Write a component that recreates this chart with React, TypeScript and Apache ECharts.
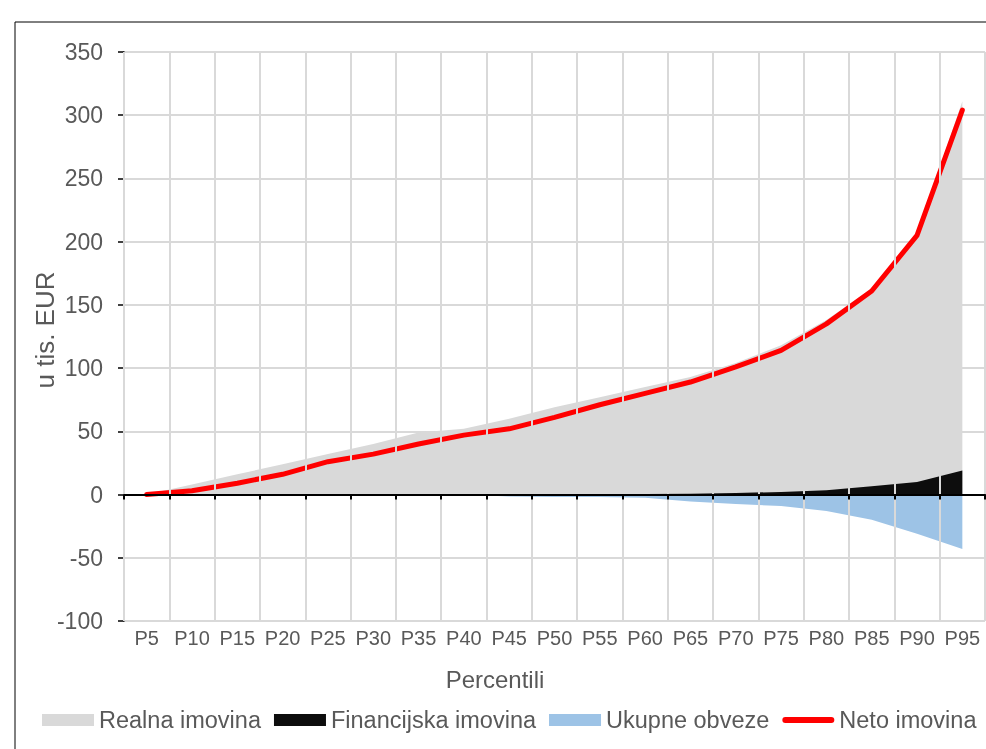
import React, { useEffect, useRef } from "react";
import * as echarts from "echarts";

const categories = ["P5", "P10", "P15", "P20", "P25", "P30", "P35", "P40", "P45", "P50", "P55", "P60", "P65", "P70", "P75", "P80", "P85", "P90", "P95"];
const realnaImovina = [0, 8, 16, 24, 32, 40, 49, 52, 60, 69, 77, 85, 93, 104, 118, 138, 163, 206, 311];
const financijskaImovina = [0, 0, 0, 0, 0, 0, 0, 0, 0, 0.3, 0.3, 0.4, 0.6, 1.3, 2, 3.5, 6.5, 10, 19];
const ukupneObveze = [0, 0, 0, 0, 0, 0, 0, 0, -1.5, -2, -2, -2.5, -5.5, -7.5, -9, -13, -20, -31, -43];
const netoImovina = [0, 3, 9, 16, 26, 32, 40, 47, 52, 61, 71, 80, 89, 101, 114, 135, 161, 205, 304];
const yTicks = { min: -100, max: 350, interval: 50 };

const FONT = "'Liberation Sans', Arial, sans-serif";
const TXT = "#595959";

export default function App() {
  const ref = useRef<HTMLDivElement>(null);
  useEffect(() => {
    if (!ref.current) return;
    const chart = echarts.init(ref.current, null, { renderer: "svg" });
    const areaSeries = (name: string, data: number[], color: string) => ({
      name,
      type: "line",
      data,
      xAxisIndex: 0,
      symbol: "none",
      lineStyle: { width: 0, color },
      itemStyle: { color },
      areaStyle: { color, opacity: 1 },
    });
    chart.setOption({
      animation: false,
      textStyle: { fontFamily: FONT },
      grid: { left: 124, top: 52, right: 1, bottom: 128, containLabel: false },
      xAxis: [
        {
          type: "category",
          data: categories,
          boundaryGap: true,
          position: "bottom",
          axisLine: { show: true, onZero: true, lineStyle: { color: "#000", width: 2 } },
          axisTick: { show: true, length: 5, lineStyle: { color: "#000", width: 2 } },
          axisLabel: { show: false },
          splitLine: { show: true, lineStyle: { color: "#d9d9d9", width: 2 } },
          z: 5,
        },
        {
          type: "category",
          data: categories,
          boundaryGap: true,
          position: "bottom",
          axisLine: { show: false, onZero: false },
          axisTick: { show: false },
          axisLabel: { show: true, color: TXT, fontSize: 20, margin: 7, fontFamily: FONT, interval: 0 },
          splitLine: { show: false },
        },
      ],
      yAxis: {
        type: "value",
        min: yTicks.min,
        max: yTicks.max,
        interval: yTicks.interval,
        axisLine: { show: true, lineStyle: { color: "#000", width: 1.5 } },
        axisTick: { show: true, length: 6, lineStyle: { color: "#000", width: 1.5 } },
        axisLabel: { color: TXT, fontSize: 23, margin: 21, fontFamily: FONT },
        splitLine: { show: true, lineStyle: { color: "#d9d9d9", width: 2 } },
      },
      legend: {
        left: 42,
        top: 708,
        width: 1000,
        padding: 0,
        itemWidth: 52,
        itemHeight: 12,
        itemGap: 13,
        textStyle: { color: TXT, fontSize: 23.5, fontFamily: FONT },
        data: [
          { name: "Realna imovina", icon: "rect" },
          { name: "Financijska imovina", icon: "rect" },
          { name: "Ukupne obveze", icon: "rect" },
          { name: "Neto imovina", icon: "path://M3,0 L49,0 A3,3 0 0 1 49,6 L3,6 A3,3 0 0 1 3,0 Z" },
        ],
      },
      graphic: [
        { type: "line", shape: { x1: 15, y1: 22, x2: 986, y2: 22 }, style: { stroke: "#000", lineWidth: 1 } },
        { type: "line", shape: { x1: 15, y1: 22, x2: 15, y2: 749 }, style: { stroke: "#000", lineWidth: 1 } },
        {
          type: "text",
          x: 495,
          y: 679,
          style: { text: "Percentili", fill: TXT, fontSize: 24, fontFamily: FONT, align: "center", verticalAlign: "middle" },
        },
        {
          type: "text",
          x: 45,
          y: 330,
          rotation: Math.PI / 2,
          style: { text: "u tis. EUR", fill: TXT, fontSize: 26, fontFamily: FONT, align: "center", verticalAlign: "middle" },
        },
      ],
      series: [
        areaSeries("Realna imovina", realnaImovina, "#d9d9d9"),
        areaSeries("Financijska imovina", financijskaImovina, "#0d0d0d"),
        areaSeries("Ukupne obveze", ukupneObveze, "#9dc3e6"),
        {
          name: "Neto imovina",
          type: "line",
          data: netoImovina,
          xAxisIndex: 0,
          symbol: "none",
          z: 4,
          itemStyle: { color: "#ff0000" },
          lineStyle: { color: "#ff0000", width: 5, cap: "round", join: "round" },
        },
      ],
    });
    return () => chart.dispose();
  }, []);
  return <div ref={ref} style={{ position: "fixed", left: 0, top: 0, width: 986, height: 749 }} />;
}
